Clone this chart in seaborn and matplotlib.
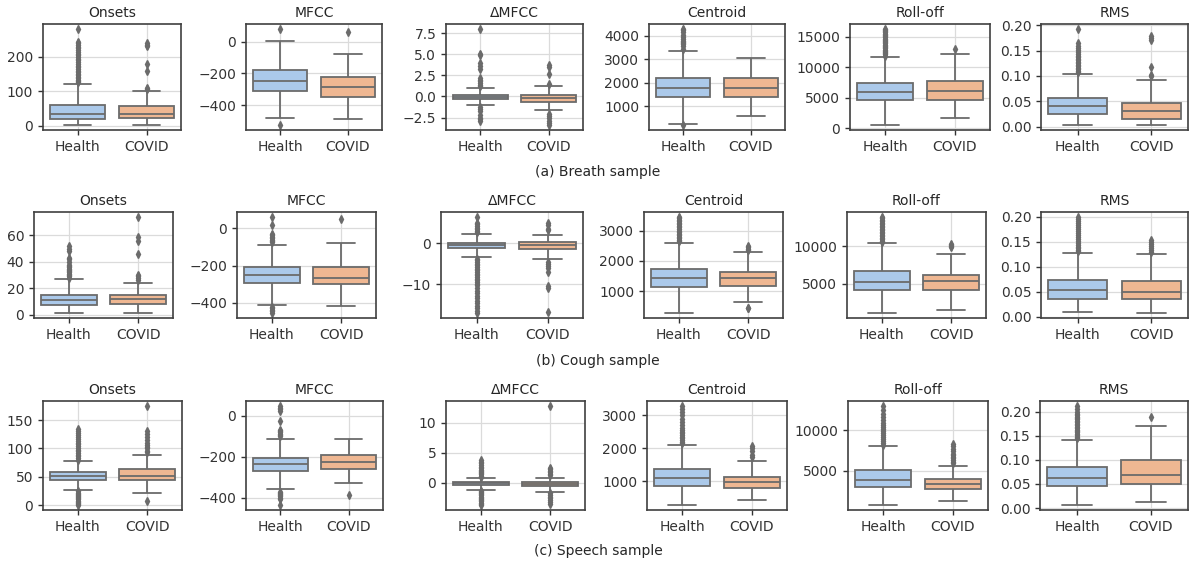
import matplotlib
matplotlib.use("Agg")
import matplotlib.pyplot as plt
import pandas as pd
import seaborn as sns

# ---------------- data ----------------
GROUPS = ["Health", "COVID"]
FEATURES = ["Onsets", "MFCC", "ΔMFCC", "Centroid", "Roll-off", "RMS"]
SAMPLES = ["(a) Breath sample", "(b) Cough sample", "(c) Speech sample"]
COLORS = ["#a1c9f4", "#ffb482"]

# five-number summaries: [whisker low, Q1, median, Q3, whisker high]
# ---- Breath ----
breath_onsets_health = [1, 18.6, 35, 60, 121]
breath_onsets_health_out = [126, 130, 134, 138, 142, 146, 150, 155, 160, 165, 170, 175, 180,
                            185, 190, 195, 200, 205, 210, 215, 220, 225, 230, 235, 240, 245, 282]
breath_onsets_covid = [1, 23, 35, 55.5, 102]
breath_onsets_covid_out = [107, 110, 160, 178, 232, 236, 240]

breath_mfcc_health = [-480, -307, -244, -181, 5]
breath_mfcc_health_out = [80, -524]
breath_mfcc_covid = [-484, -345, -286, -223, -78]
breath_mfcc_covid_out = [63]

breath_dmfcc_health = [-1.05, -0.31, -0.08, 0.2, 0.94]
breath_dmfcc_health_out = [1.2, 1.4, 1.6, 1.8, 2.0, 2.2, 3.3, 3.6, 4.0, 4.9, 5.0, 8.0,
                           -1.3, -1.5, -1.7, -2.2, -2.5, -2.7, -2.9]
breath_dmfcc_covid = [-1.6, -0.7, -0.2, 0.15, 1.25]
breath_dmfcc_covid_out = [1.5, 2.6, 3.5, 3.7, -2.05, -2.3, -2.6, -2.9, -3.2, -3.4]

breath_centroid_health = [250, 1396, 1778, 2188, 3348]
breath_centroid_health_out = [200, 3450, 3550, 3650, 3700, 3750, 3800, 3850, 3950, 4050,
                              4150, 4250, 4300]
breath_centroid_covid = [576, 1396, 1764, 2188, 3065]
breath_centroid_covid_out = []

breath_rolloff_health = [540, 4620, 5980, 7500, 11630]
breath_rolloff_health_out = [11900, 12100, 12300, 12500, 12700, 12900, 13100, 13300, 13500,
                             13700, 13900, 14100, 14300, 14500, 14700, 14900, 15100, 15300,
                             15500, 15700, 15900, 16100, 16300]
breath_rolloff_covid = [1685, 4620, 6200, 7770, 12120]
breath_rolloff_covid_out = [12940]

breath_rms_health = [0.0033, 0.024, 0.040, 0.056, 0.103]
breath_rms_health_out = [0.107, 0.110, 0.113, 0.116, 0.119, 0.122, 0.125, 0.128, 0.131, 0.134,
                         0.137, 0.140, 0.143, 0.147, 0.151, 0.155, 0.160, 0.165, 0.193]
breath_rms_covid = [0.0027, 0.014, 0.030, 0.046, 0.092]
breath_rms_covid_out = [0.100, 0.102, 0.118, 0.170, 0.175, 0.178]

# ---- Cough ----
cough_onsets_health = [1.3, 7.1, 11.2, 15.2, 27.2]
cough_onsets_health_out = [28, 29, 30, 31, 32, 33, 34, 35, 36, 37, 38, 40, 42, 43, 48, 50, 52]
cough_onsets_covid = [1.3, 8.1, 12.2, 15.2, 24.1]
cough_onsets_covid_out = [26.5, 27.5, 29, 30, 46, 56, 59, 74]

cough_mfcc_health = [-412, -291, -248, -209, -87]
cough_mfcc_health_out = [-75, -68, -60, -52, -45, -38, -30, 20, 62, -420, -428, -436, -445, -455]
cough_mfcc_covid = [-416, -296, -266, -208, -78]
cough_mfcc_covid_out = [50]

cough_dmfcc_health = [-3.4, -1.28, -0.56, 0.16, 2.24]
cough_dmfcc_health_out = [2.6, 3.0, 3.4, 3.8, 4.2, 4.6, 5.0, 6.4,
                          -3.8, -4.2, -4.6, -5.0, -5.4, -5.8, -6.2, -6.6, -7.0, -7.4, -7.8,
                          -8.2, -8.6, -9.0, -9.4, -9.8, -10.2, -11.0, -11.6, -12.2, -12.8,
                          -13.4, -14.0, -14.6, -15.2, -15.8, -16.4, -17.0]
cough_dmfcc_covid = [-3.9, -1.5, -0.56, 0.32, 2.1]
cough_dmfcc_covid_out = [3.2, 3.5, 4.4, 4.8, -4.5, -5.0, -5.5, -6.0, -7.0, -10.3, -11.0, -16.8]

cough_centroid_health = [286, 1143, 1428, 1730, 2590]
cough_centroid_health_out = [2650, 2700, 2750, 2800, 2850, 2900, 2950, 3000, 3050, 3100, 3150,
                             3200, 3250, 3300, 3350, 3400, 3450]
cough_centroid_covid = [648, 1165, 1428, 1626, 2307]
cough_centroid_covid_out = [2350, 2400, 2450, 2500, 440, 465]

cough_rolloff_health = [1062, 4159, 5265, 6660, 10350]
cough_rolloff_health_out = [10500, 10700, 10900, 11100, 11300, 11500, 11700, 11900, 12100,
                            12300, 12500, 12700, 12900, 13100, 13300, 13500, 13700, 13900]
cough_rolloff_covid = [1460, 4204, 5310, 6100, 8890]
cough_rolloff_covid_out = [9900, 10000, 10100, 10300]

cough_rms_health = [0.0088, 0.0358, 0.0534, 0.073, 0.128]
cough_rms_health_out = [0.131, 0.134, 0.137, 0.140, 0.144, 0.148, 0.152, 0.156, 0.160, 0.164,
                        0.168, 0.172, 0.176, 0.180, 0.184, 0.188, 0.192, 0.196, 0.200]
cough_rms_covid = [0.0068, 0.035, 0.0486, 0.0716, 0.126]
cough_rms_covid_out = [0.130, 0.133, 0.137, 0.141, 0.145, 0.149, 0.153]

# ---- Speech ----
speech_onsets_health = [26, 44.8, 52, 58, 77]
speech_onsets_health_out = [80, 83, 86, 89, 92, 95, 98, 101, 104, 107, 110, 113, 116, 120, 124,
                            128, 131, 134, 24, 22, 20, 18, 16, 14, 12, 10, 8, 6, 4, 2, 0]
speech_onsets_covid = [21.8, 44.9, 52, 63.8, 88.5]
speech_onsets_covid_out = [93, 96, 100, 103, 106, 110, 115, 120, 125, 130, 175, 8]

speech_mfcc_health = [-359, -270, -237, -205, -112]
speech_mfcc_health_out = [-98, -92, -86, -80, -74, -68, -24, 25, 32, 40, 49,
                          -370, -376, -382, -388, -394, -400, -406, -436]
speech_mfcc_covid = [-330, -259, -223, -189, -112]
speech_mfcc_covid_out = [-385]

speech_dmfcc_health = [-1.15, -0.4, -0.1, 0.12, 0.86]
speech_dmfcc_health_out = [1.0, 1.2, 1.4, 1.6, 1.8, 2.0, 2.2, 2.4, 2.6, 2.9, 3.2, 3.5, 3.7,
                           -1.3, -1.5, -1.7, -1.9, -2.1, -2.3, -2.5, -2.7, -2.9, -3.1, -3.3,
                           -3.5, -3.7]
speech_dmfcc_covid = [-1.46, -0.55, -0.2, 0.15, 0.86]
speech_dmfcc_covid_out = [1.25, 1.5, 1.75, 2.0, 2.25, 2.5, 12.75,
                          -1.7, -2.0, -2.3, -2.6, -2.9, -3.2, -3.5]

speech_centroid_health = [286, 869, 1100, 1372, 2100]
speech_centroid_health_out = [2150, 2200, 2250, 2300, 2350, 2400, 2450, 2500, 2550, 2600, 2700,
                              2800, 2900, 3000, 3100, 3200, 3280]
speech_centroid_covid = [437, 800, 970, 1140, 1613]
speech_centroid_covid_out = [1750, 1800, 1925, 2000, 2075]

speech_rolloff_health = [730, 2970, 3850, 5020, 7990]
speech_rolloff_health_out = [8200, 8450, 8700, 8950, 9200, 9450, 9700, 9950, 10200, 10450,
                             10700, 10950, 11200, 11600, 12000, 12500, 13000]
speech_rolloff_covid = [1230, 2700, 3280, 3960, 5530]
speech_rolloff_covid_out = [5900, 6100, 6300, 6500, 6700, 6900, 7100, 7400, 7700, 8000, 8280]

speech_rms_health = [0.0063, 0.046, 0.0634, 0.085, 0.1415]
speech_rms_health_out = [0.145, 0.148, 0.151, 0.154, 0.157, 0.160, 0.163, 0.166, 0.169, 0.172,
                         0.175, 0.178, 0.181, 0.184, 0.187, 0.190, 0.193, 0.196, 0.200, 0.205,
                         0.212]
speech_rms_covid = [0.0132, 0.0509, 0.069, 0.099, 0.170]
speech_rms_covid_out = [0.1895]

# y tick labels per row
breath_yticks = [[0, 100, 200], [-400, -200, 0], [-2.5, 0, 2.5, 5, 7.5],
                 [1000, 2000, 3000, 4000], [0, 5000, 10000, 15000], [0, 0.05, 0.1, 0.15, 0.2]]
cough_yticks = [[0, 20, 40, 60], [-400, -200, 0], [-10, 0],
                [1000, 2000, 3000], [5000, 10000], [0, 0.05, 0.1, 0.15, 0.2]]
speech_yticks = [[0, 50, 100, 150], [-400, -200, 0], [0, 5, 10],
                 [1000, 2000, 3000], [5000, 10000], [0, 0.05, 0.1, 0.15, 0.2]]

rows = [
    [(breath_onsets_health, breath_onsets_health_out, breath_onsets_covid, breath_onsets_covid_out),
     (breath_mfcc_health, breath_mfcc_health_out, breath_mfcc_covid, breath_mfcc_covid_out),
     (breath_dmfcc_health, breath_dmfcc_health_out, breath_dmfcc_covid, breath_dmfcc_covid_out),
     (breath_centroid_health, breath_centroid_health_out, breath_centroid_covid, breath_centroid_covid_out),
     (breath_rolloff_health, breath_rolloff_health_out, breath_rolloff_covid, breath_rolloff_covid_out),
     (breath_rms_health, breath_rms_health_out, breath_rms_covid, breath_rms_covid_out)],
    [(cough_onsets_health, cough_onsets_health_out, cough_onsets_covid, cough_onsets_covid_out),
     (cough_mfcc_health, cough_mfcc_health_out, cough_mfcc_covid, cough_mfcc_covid_out),
     (cough_dmfcc_health, cough_dmfcc_health_out, cough_dmfcc_covid, cough_dmfcc_covid_out),
     (cough_centroid_health, cough_centroid_health_out, cough_centroid_covid, cough_centroid_covid_out),
     (cough_rolloff_health, cough_rolloff_health_out, cough_rolloff_covid, cough_rolloff_covid_out),
     (cough_rms_health, cough_rms_health_out, cough_rms_covid, cough_rms_covid_out)],
    [(speech_onsets_health, speech_onsets_health_out, speech_onsets_covid, speech_onsets_covid_out),
     (speech_mfcc_health, speech_mfcc_health_out, speech_mfcc_covid, speech_mfcc_covid_out),
     (speech_dmfcc_health, speech_dmfcc_health_out, speech_dmfcc_covid, speech_dmfcc_covid_out),
     (speech_centroid_health, speech_centroid_health_out, speech_centroid_covid, speech_centroid_covid_out),
     (speech_rolloff_health, speech_rolloff_health_out, speech_rolloff_covid, speech_rolloff_covid_out),
     (speech_rms_health, speech_rms_health_out, speech_rms_covid, speech_rms_covid_out)],
]
row_yticks = [breath_yticks, cough_yticks, speech_yticks]


def sample_from_summary(summary, outliers, m=60):
    """Rebuild a sample whose box-plot statistics are the read summary."""
    lo, q1, med, q3, hi = summary
    return [lo, hi] + [q1] * m + [med] * m + [q3] * m + list(outliers)


# ---------------- layout (pixel boxes) ----------------
W, H = 1193, 563
row_y = [(24, 130), (212, 318), (401, 510)]
row_x = [
    [(43, 181), (246, 382), (446, 583), (649, 785), (850, 990), (1041, 1188)],
    [(34, 173), (237, 376), (441, 583), (644, 783), (847, 986), (1041, 1188)],
    [(43, 182), (246, 383), (446, 585), (647, 787), (848, 988), (1040, 1188)],
]
caption_y = [172, 361, 551]

sns.set_theme(style="whitegrid")
plt.rcParams.update({
    "font.family": ["DejaVu Sans"],
    "axes.edgecolor": "0.25",
    "axes.linewidth": 1.2,
    "grid.color": "0.86",
    "grid.linewidth": 0.9,
    "xtick.bottom": True,
    "ytick.left": True,
    "xtick.major.size": 3.5,
    "ytick.major.size": 3.5,
    "xtick.major.width": 1.0,
    "ytick.major.width": 1.0,
    "xtick.color": "0.2",
    "ytick.color": "0.2",
    "xtick.labelsize": 10,
    "ytick.labelsize": 10,
    "axes.titlesize": 10,
    "text.color": "0.15",
})

fig = plt.figure(figsize=(W / 100, H / 100), dpi=100)

for r, row in enumerate(rows):
    top, bottom = row_y[r]
    for c, (h, h_out, cv, cv_out) in enumerate(row):
        left, right = row_x[r][c]
        ax = fig.add_axes([left / W, 1 - bottom / H, (right - left) / W, (bottom - top) / H])
        hv = sample_from_summary(h, h_out)
        cvv = sample_from_summary(cv, cv_out)
        df = pd.DataFrame({
            "group": [GROUPS[0]] * len(hv) + [GROUPS[1]] * len(cvv),
            "value": hv + cvv,
        })
        sns.boxplot(data=df, x="group", y="value", hue="group", order=GROUPS,
                    hue_order=GROUPS, palette=COLORS, legend=False, ax=ax,
                    width=0.8, linecolor="0.42", linewidth=1.3, whis=1.5,
                    fliersize=4,
                    flierprops=dict(marker="d", markerfacecolor="0.42",
                                    markeredgecolor="0.42"))
        ax.set_xlabel("")
        ax.set_ylabel("")
        ax.set_yticks(row_yticks[r][c])
        ax.set_title(FEATURES[c], pad=5)
        ax.xaxis.grid(True)
        ax.yaxis.grid(True)
        ax.set_axisbelow(True)
        for s in ax.spines.values():
            s.set_visible(True)
            s.set_color("0.25")
    fig.text(598 / W, 1 - caption_y[r] / H, SAMPLES[r], ha="center", va="center",
             fontsize=10, color="0.15")

fig.savefig("out.png", dpi=100)
